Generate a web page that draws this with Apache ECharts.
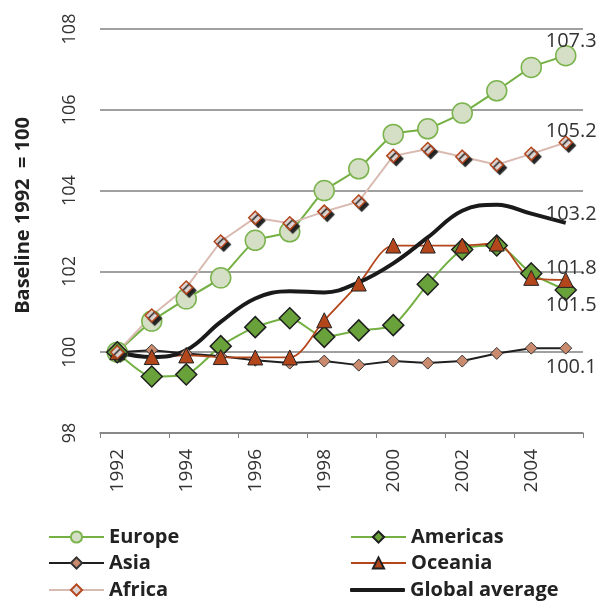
<!DOCTYPE html>
<html>
<head>
<meta charset="utf-8">
<script src="https://cdn.jsdelivr.net/npm/echarts@6/dist/echarts.min.js"></script>
<style>
html, body { margin: 0; padding: 0; background: #fff; }
#main { width: 598px; height: 605px; }
</style>
</head>
<body>
<div id="main"></div>
<script>
var years = ['1992', '1993', '1994', '1995', '1996', '1997', '1998', '1999', '2000', '2001', '2002', '2003', '2004', '2005'];
var europe   = [100, 100.77, 101.32, 101.84, 102.77, 102.98, 104.0, 104.54, 105.39, 105.53, 105.92, 106.47, 107.05, 107.34];
var americas = [100, 99.4, 99.45, 100.15, 100.62, 100.84, 100.38, 100.54, 100.67, 101.68, 102.54, 102.64, 101.95, 101.54];
var asia     = [100, 100.05, 99.97, 99.9, 99.8, 99.73, 99.78, 99.68, 99.78, 99.73, 99.78, 99.97, 100.1, 100.1];
var oceania  = [100, 99.88, 99.92, 99.88, 99.87, 99.87, 100.79, 101.7, 102.64, 102.64, 102.64, 102.69, 101.84, 101.79];
var africa   = [100, 100.91, 101.6, 102.74, 103.33, 103.19, 103.48, 103.73, 104.86, 105.03, 104.84, 104.64, 104.91, 105.19];
var globalAvg = [100, 99.88, 100.05, 100.75, 101.33, 101.51, 101.48, 101.73, 102.2, 102.84, 103.5, 103.65, 103.43, 103.2];
var yTicks = [98, 100, 102, 104, 106, 108];

var myChart = echarts.init(document.getElementById('main'));
var FONT = '"Open Sans", "Noto Sans", sans-serif';

// 末端数值标签
function endLabel(dy) {
    return {
        show: true,
        offset: [-28, dy],
        color: '#333',
        fontSize: 20,
        fontFamily: FONT,
        formatter: function (p) {
            var v = Array.isArray(p.value) ? p.value[1] : p.value;
            return Number(v).toFixed(1);
        }
    };
}

// 图例：两列，每项单独定位
function legendItem(name, left, centerY, icon) {
    var item = {
        left: left,
        top: centerY - 10,
        padding: 0,
        itemWidth: 55,
        itemHeight: 14,
        textStyle: { fontSize: 20, lineHeight: 20, fontWeight: 'bold', color: '#222', fontFamily: FONT },
        data: [name]
    };
    if (icon) {
        item.data = [{ name: name, icon: icon }];
        item.itemHeight = 4;
    }
    return item;
}

var option = {
    animation: false,
    grid: {
        left: 100,
        right: 15,
        top: 29,
        bottom: 172,
        containLabel: false
    },
    legend: [
        legendItem('Europe', 48, 537),
        legendItem('Asia', 48, 563),
        legendItem('Africa', 48, 590),
        legendItem('Americas', 350, 537),
        legendItem('Oceania', 350, 563),
        legendItem('Global average', 350, 590, 'roundRect')
    ],
    xAxis: {
        type: 'category',
        data: years,
        boundaryGap: true,
        axisLine: { lineStyle: { color: '#808080', width: 1.5 } },
        axisTick: { show: true, length: 5, lineStyle: { color: '#808080', width: 1 } },
        axisLabel: {
            interval: 1,
            rotate: 90,
            margin: 16,
            fontSize: 19,
            color: '#333',
            fontFamily: FONT
        }
    },
    yAxis: {
        type: 'value',
        min: yTicks[0],
        max: yTicks[yTicks.length - 1],
        interval: 2,
        name: 'Baseline 1992  = 100',
        nameLocation: 'middle',
        nameGap: 67,
        nameTextStyle: {
            fontSize: 20,
            fontWeight: 'bold',
            color: '#222',
            fontFamily: FONT,
            padding: [0, 0, 0, 31]
        },
        axisLine: { show: false },
        axisTick: { show: false },
        splitLine: { lineStyle: { color: '#808080', width: 1.5 } },
        axisLabel: {
            rotate: 90,
            margin: 21,
            fontSize: 18,
            color: '#333',
            fontFamily: FONT
        }
    },
    series: [
        {
            name: 'Europe',
            type: 'line',
            data: europe,
            smooth: 0.15,
            symbol: 'circle',
            symbolSize: 20,
            lineStyle: { color: '#74b043', width: 2 },
            itemStyle: { color: '#d4dfc5', borderColor: '#7bb34d', borderWidth: 1.5 },
            endLabel: endLabel(-14)
        },
        {
            name: 'Americas',
            type: 'line',
            data: americas,
            smooth: 0.25,
            symbol: 'diamond',
            symbolSize: 21,
            lineStyle: { color: '#74b043', width: 2 },
            itemStyle: { color: '#69a23a', borderColor: '#1f1f1f', borderWidth: 1.5 },
            endLabel: endLabel(15)
        },
        {
            name: 'Asia',
            type: 'line',
            data: asia,
            symbol: 'diamond',
            symbolSize: 12,
            lineStyle: { color: '#1f1f1f', width: 2 },
            itemStyle: { color: '#c98a6e', borderColor: '#333', borderWidth: 1 },
            endLabel: endLabel(19)
        },
        {
            name: 'Oceania',
            type: 'line',
            data: oceania,
            smooth: 0.3,
            symbol: 'triangle',
            symbolSize: 15,
            lineStyle: { color: '#b4461c', width: 1.8 },
            itemStyle: { color: '#b4461c', borderColor: '#222', borderWidth: 1 },
            endLabel: endLabel(-12)
        },
        {
            name: 'Africa',
            type: 'line',
            data: africa,
            symbol: 'diamond',
            symbolSize: 13,
            lineStyle: { color: '#d9bab0', width: 2 },
            itemStyle: {
                color: '#ddd3d1',
                borderColor: '#b4461c',
                borderWidth: 1.5,
                shadowColor: '#222',
                shadowBlur: 1,
                shadowOffsetX: 3,
                shadowOffsetY: 3
            },
            endLabel: endLabel(-11)
        },
        {
            name: 'Global average',
            type: 'line',
            data: globalAvg,
            smooth: 0.4,
            symbol: 'none',
            lineStyle: { color: '#1a1a1a', width: 4 },
            itemStyle: { color: '#1a1a1a' },
            endLabel: endLabel(-9)
        }
    ]
};
myChart.setOption(option);
</script>
</body>
</html>
